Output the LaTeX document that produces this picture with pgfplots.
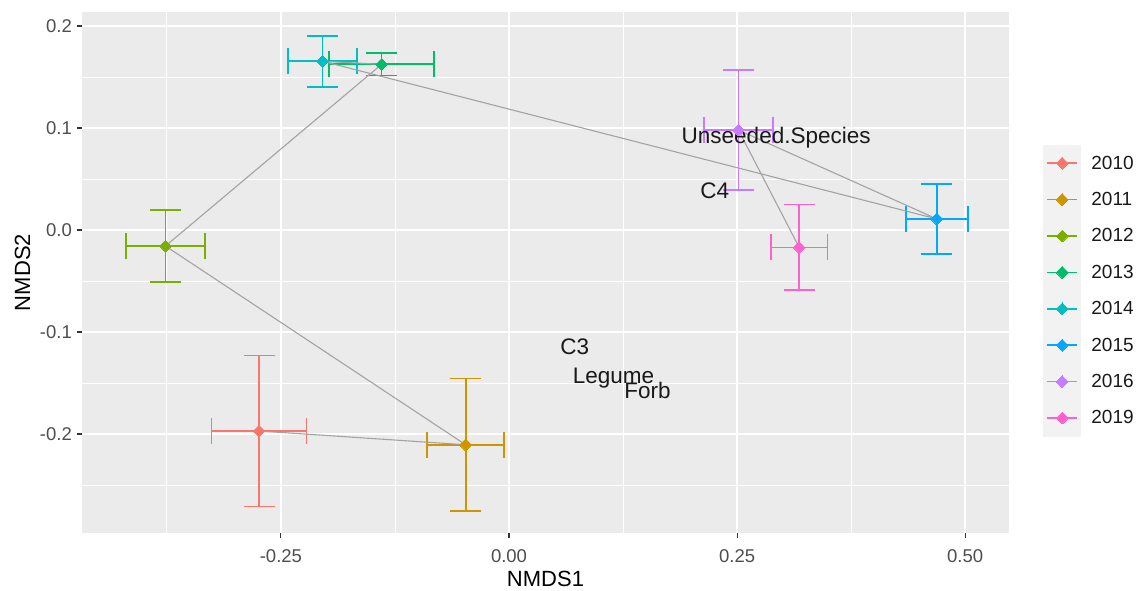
\documentclass[border=0pt]{standalone}
\usepackage{fontspec}
\setmainfont{Liberation Sans}
\usepackage{pgfplots}
\pgfplotsset{compat=1.18}
\definecolor{c2010}{HTML}{F8766D}
\definecolor{c2011}{HTML}{CD9600}
\definecolor{c2012}{HTML}{7CAE00}
\definecolor{c2013}{HTML}{00BE67}
\definecolor{c2014}{HTML}{00BFC4}
\definecolor{c2015}{HTML}{00A9FF}
\definecolor{c2016}{HTML}{C77CFF}
\definecolor{c2019}{HTML}{FF61CC}
\definecolor{panelbg}{HTML}{EBEBEB}
\definecolor{ticktxt}{HTML}{4D4D4D}
\definecolor{tickcol}{HTML}{333333}
\definecolor{pathcol}{HTML}{A3A3A3}
\definecolor{legbg}{HTML}{F2F2F2}
\pgfplotsset{
  xe/.style={forget plot, color=#1, only marks, mark=none, error bars/.cd, x dir=both, x explicit,
    error mark=|,
    error bar style={color=#1, line width=1.7pt, solid},
    error mark options={color=#1, line width=1.7pt, mark size=13pt}},
  ye/.style={forget plot, color=#1, only marks, mark=none, error bars/.cd, y dir=both, y explicit,
    error mark=|,
    error bar style={color=#1, line width=1.7pt, solid},
    error mark options={color=#1, line width=1.7pt, mark size=15.5pt}},
  pt/.style={color=#1, mark=square*, mark size=4.2pt, mark options={rotate=45, fill=#1, draw=#1, line width=0pt}},
}
\begin{document}
\begin{tikzpicture}
\useasboundingbox (0,0) rectangle (1141pt,590pt);
\begin{axis}[
  at={(82pt,57pt)}, anchor=south west,
  scale only axis, width=927pt, height=521pt,
  xmin=-0.468, xmax=0.548, ymin=-0.297, ymax=0.2137,
  axis background/.style={fill=panelbg},
  axis line style={draw=none},
  grid=both,
  major grid style={white, line width=1.7pt},
  minor grid style={white, line width=0.9pt},
  xtick={-0.25,0,0.25,0.5}, xticklabels={-0.25,0.00,0.25,0.50},
  ytick={-0.2,-0.1,0,0.1,0.2}, yticklabels={-0.2,-0.1,0.0,0.1,0.2},
  minor xtick={-0.375,-0.125,0.125,0.375},
  minor ytick={-0.25,-0.15,-0.05,0.05,0.15},
  xtick pos=bottom, ytick pos=left,
  tick align=outside, major tick length=5pt, minor tick length=0pt,
  tick style={draw=tickcol, line width=1.1pt},
  xticklabel style={font=\fontsize{18.5}{20}\selectfont, text=ticktxt, anchor=base, inner sep=0pt, yshift=-24pt},
  yticklabel style={font=\fontsize{18.5}{20}\selectfont, text=ticktxt, anchor=east, inner sep=0pt, xshift=-5pt},
  xlabel={NMDS1}, ylabel={NMDS2},
  xlabel style={font=\fontsize{22}{24}\selectfont, at={(axis description cs:0.5,-0.1036)}, anchor=base, inner sep=0pt},
  ylabel style={font=\fontsize{22}{24}\selectfont, at={(axis description cs:-0.056,0.5)}, anchor=base, inner sep=0pt},
  legend style={at={(axis description cs:1.03668,0.74472)}, anchor=north west, draw=none, fill=none,
    inner sep=0pt, outer sep=0pt, font=\fontsize{19}{20}\selectfont, text=black!90, row sep=0pt,
    column sep=11pt, nodes={inner sep=0pt}},
  legend cell align=left,
  legend image code/.code={\fill[legbg] (-4pt,-18pt) rectangle (33pt,18pt);
    \draw[#1, line width=1.7pt, mark=none] (0pt,0pt) -- (30pt,0pt);
    \draw[#1] plot coordinates {(15pt,0pt)};},
]
% horizontal error bars
\addplot[xe=c2010] coordinates {(-0.274,-0.197) +- (0.052,0)};
\addplot[xe=c2011] coordinates {(-0.0475,-0.2105) +- (0.042,0)};
\addplot[xe=c2012] coordinates {(-0.3765,-0.0157) +- (0.0435,0)};
\addplot[xe=c2013] coordinates {(-0.1396,0.1624) +- (0.0575,0)};
\addplot[xe=c2014] coordinates {(-0.2043,0.1654) +- (0.038,0)};
\addplot[xe=c2015] coordinates {(0.469,0.0108) +- (0.034,0)};
\addplot[xe=c2016] coordinates {(0.2515,0.098) +- (0.038,0)};
\addplot[xe=c2019] coordinates {(0.318,-0.017) +- (0.031,0)};
% vertical error bars
\addplot[ye=c2010] coordinates {(-0.274,-0.197) +- (0,0.074)};
\addplot[ye=c2011] coordinates {(-0.0475,-0.2105) +- (0,0.065)};
\addplot[ye=c2012] coordinates {(-0.3765,-0.0157) +- (0,0.035)};
\addplot[ye=c2013] coordinates {(-0.1396,0.1624) +- (0,0.011)};
\addplot[ye=c2014] coordinates {(-0.2043,0.1654) +- (0,0.025)};
\addplot[ye=c2015] coordinates {(0.469,0.0108) +- (0,0.034)};
\addplot[ye=c2016] coordinates {(0.2515,0.098) +- (0,0.0585)};
\addplot[ye=c2019] coordinates {(0.318,-0.017) +- (0,0.042)};
% points
\addplot[pt=c2010] coordinates {(-0.274,-0.197)};
\addlegendentry{2010}
\addplot[pt=c2011] coordinates {(-0.0475,-0.2105)};
\addlegendentry{2011}
\addplot[pt=c2012] coordinates {(-0.3765,-0.0157)};
\addlegendentry{2012}
\addplot[pt=c2013] coordinates {(-0.1396,0.1624)};
\addlegendentry{2013}
\addplot[pt=c2014] coordinates {(-0.2043,0.1654)};
\addlegendentry{2014}
\addplot[pt=c2015] coordinates {(0.469,0.0108)};
\addlegendentry{2015}
\addplot[pt=c2016] coordinates {(0.2515,0.098)};
\addlegendentry{2016}
\addplot[pt=c2019] coordinates {(0.318,-0.017)};
\addlegendentry{2019}
% path in year order
\addplot[forget plot, pathcol, line width=1.1pt, mark=none] coordinates {
  (-0.274,-0.197) (-0.0475,-0.2105) (-0.3765,-0.0157) (-0.1396,0.1624)
  (-0.2043,0.1654) (0.469,0.0108) (0.2515,0.098) (0.318,-0.017)};
% species labels
\begin{scope}[every node/.style={font=\fontsize{22.5}{24}\selectfont, text=black!90, inner sep=0pt, anchor=base}]
\node at (axis cs:0.2928,0.085) {Unseeded.Species};
\node at (axis cs:0.2255,0.031) {C4};
\node at (axis cs:0.072,-0.1219) {C3};
\node at (axis cs:0.1146,-0.1503) {Legume};
\node at (axis cs:0.1517,-0.165) {Forb};
\end{scope}
\end{axis}
\end{tikzpicture}
\end{document}
